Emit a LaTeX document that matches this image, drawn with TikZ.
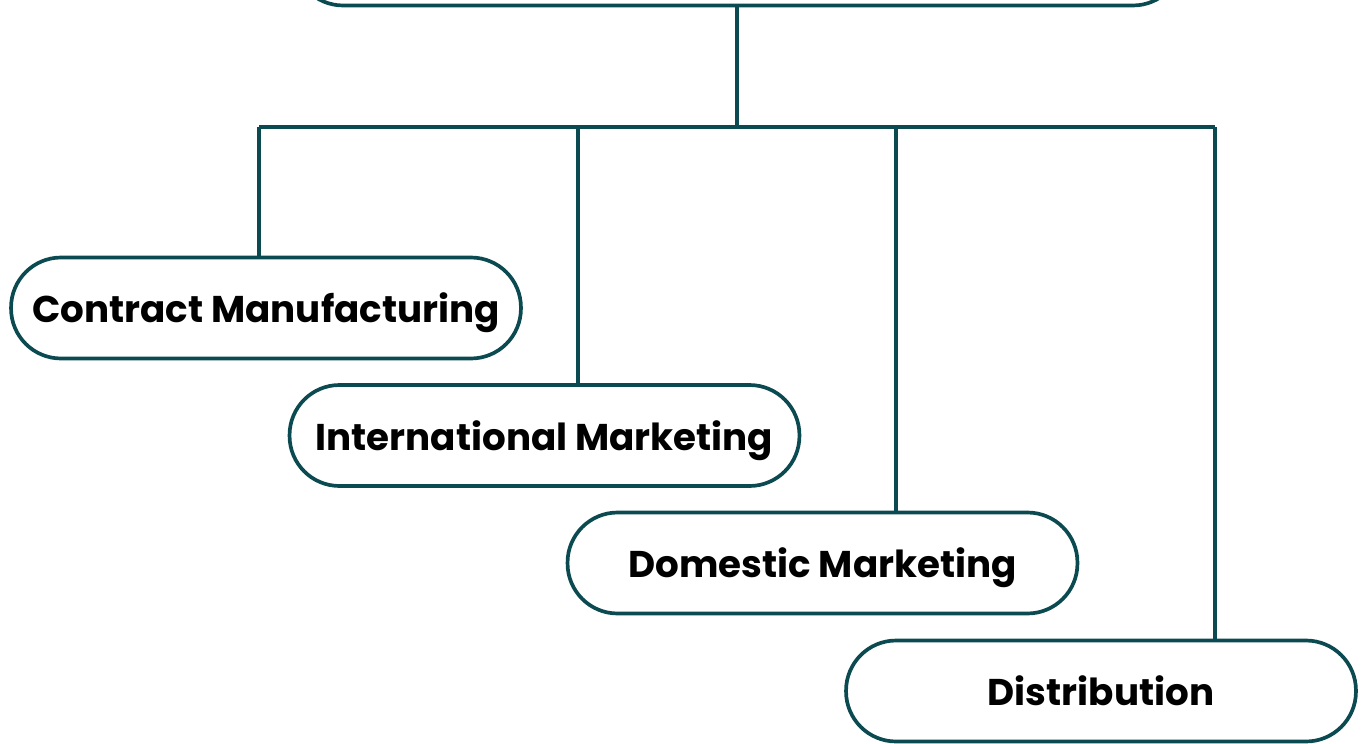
\documentclass[tikz,border=0pt]{standalone}
\usepackage{fontspec}
\setmainfont{Poppins}
\usepackage{tikz}
\usetikzlibrary{positioning, calc}

\definecolor{deepteal}{HTML}{0B4A50}

\tikzset{
  pill/.style={draw=deepteal, line width=2.1pt, rounded corners=1cm,
    minimum width=10.2cm, minimum height=2.02cm, fill=white,
    text depth=0pt, font=\fontsize{21.2}{24}\selectfont\bfseries, text=black},
  link/.style={draw=deepteal, line width=2.1pt}
}

\begin{document}
\begin{tikzpicture}[x=0.02cm,y=-0.02cm]
        \useasboundingbox (0,0) rectangle (1364,743);
        % head box, cut off at the top
        \node[pill, minimum width=17.8cm] (head) at (738,-45) {};
        \coordinate (split) at (737,127);
        \coordinate (b1) at (259,127);
        \coordinate (b2) at (578,127);
        \coordinate (b3) at (896,127);
        \coordinate (b4) at (1215,127);
        % the four branches
        \node[pill] (contract) at (266,308) {Contract Manufacturing};
        \node[pill] (intl) at (544.5,435.5) {International Marketing};
        \node[pill] (domestic) at (822.5,563) {Domestic Marketing};
        \node[pill] (distrib) at (1101,691) {Distribution};
        \draw[link] (head.south -| split) -- (split);
        \draw[link] (b1) -- (b4);
        \draw[link] (b1) -- (b1 |- contract.north);
        \draw[link] (b2) -- (b2 |- intl.north);
        \draw[link] (b3) -- (b3 |- domestic.north);
        \draw[link] (b4) -- (b4 |- distrib.north);
\end{tikzpicture}
\end{document}
